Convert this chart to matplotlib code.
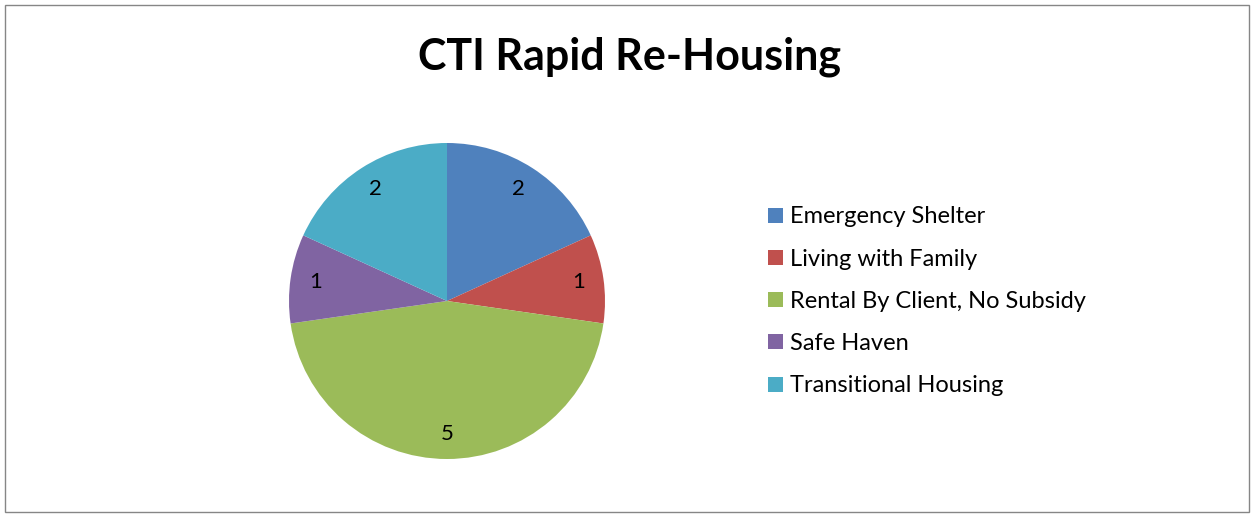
import matplotlib.pyplot as plt
import matplotlib.patches as mpatches

categories = ['Emergency Shelter', 'Living with Family', 'Rental By Client, No Subsidy',
              'Safe Haven', 'Transitional Housing']
values = [2, 1, 5, 1, 2]
colors = ['#4F81BD', '#C0504D', '#9BBB59', '#8064A2', '#4BACC6']

plt.rcParams['font.family'] = ['Lato', 'DejaVu Sans']

fig = plt.figure(figsize=(12.54, 5.17), dpi=100)

# outer border of the chart area
fig.patches.append(mpatches.Rectangle((5 / 1254, 5 / 517), 1244 / 1254, 507 / 517,
                                      transform=fig.transFigure, fill=False,
                                      edgecolor='#868686', linewidth=1))

fig.text(629 / 1254, 1 - 57 / 517, 'CTI Rapid Re-Housing', ha='center', va='center',
         fontsize=31, fontweight='bold')

ax = fig.add_axes([289 / 1254, 58 / 517, 316 / 1254, 316 / 517])
wedges, texts = ax.pie(values, colors=colors, startangle=90, counterclock=False,
                       labels=[str(v) for v in values], labeldistance=0.84,
                       wedgeprops=dict(linewidth=0))
for t in texts:
    t.set_ha('center')
    t.set_va('center')
    t.set_fontsize(16)
ax.set_xlim(-1, 1)
ax.set_ylim(-1, 1)
ax.set_aspect('equal')

fig.legend(wedges, categories, loc='upper left', bbox_to_anchor=(759 / 1254, 1 - 197 / 517),
           frameon=False, fontsize=17, handlelength=0.6, handleheight=0.6,
           handletextpad=0.3, labelspacing=0.9, borderaxespad=0)

fig.savefig('out.png', dpi=100)
